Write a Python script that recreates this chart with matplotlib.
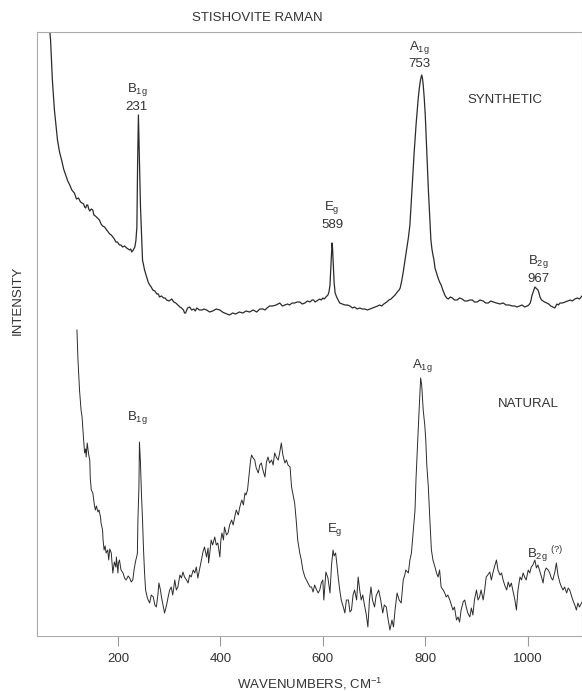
import numpy as np
import matplotlib
matplotlib.use("Agg")
import matplotlib.pyplot as plt

plt.rcParams['font.family'] = ['Liberation Sans', 'DejaVu Sans']
plt.rcParams['mathtext.default'] = 'regular'

# synthetic stishovite: (wavenumber cm-1, relative intensity)
synthetic = np.array([
    [65, 616], [68.5, 596], [72, 556], [76, 526], [82, 496], [86, 484], [90, 476],
    [94, 467], [98, 461], [102, 455], [106, 451], [110, 446], [115, 443], [119, 437],
    [123, 438], [127, 434], [130, 433], [133, 432], [135, 429], [137, 428], [139, 431],
    [141, 431], [143, 427], [145, 425], [148, 427], [151, 426], [153, 421], [156, 420],
    [160, 418], [164, 416], [167, 412], [170, 410], [174, 409], [178, 406], [181, 404],
    [184, 402], [187, 401], [190, 399], [193, 397], [196, 394], [199, 394], [203, 391],
    [206, 391], [209, 389], [213, 390], [217, 388], [220, 387], [223, 386], [225, 387],
    [227, 384], [230, 386], [233, 389], [235, 395], [237, 409], [238.5, 476], [240, 521],
    [242, 476], [244, 430], [246, 403], [248, 376], [252, 366], [256, 359], [259, 354],
    [262, 351], [265, 349], [268, 346], [272, 345], [276, 342], [279, 342], [281, 339],
    [285, 340], [289, 338], [292, 338], [295, 336], [300, 335], [305, 337], [309, 334],
    [313, 333], [317, 331], [321, 329], [324, 328], [328, 326], [330, 323], [332, 323],
    [336, 328], [340, 329], [344, 326], [348, 327], [351, 325], [354, 328], [359, 326],
    [364, 326], [368, 327], [373, 326], [379, 324], [385, 325], [392, 327], [399, 326],
    [404, 324], [408, 323], [413, 322], [418, 321], [424, 323], [430, 322], [437, 324],
    [444, 323], [450, 325], [457, 324], [464, 326], [471, 324], [477, 327], [483, 327],
    [487, 326], [491, 328], [496, 330], [502, 330], [509, 331], [516, 333], [521, 330],
    [526, 331], [531, 332], [535, 331], [540, 333], [545, 333], [550, 334], [555, 334],
    [560, 332], [565, 333], [570, 335], [575, 334], [579, 336], [582, 336], [585, 334],
    [588, 335], [591, 336], [594, 337], [597, 336], [600, 338], [603, 337], [606, 339],
    [608, 340], [610, 341], [612, 344], [614, 351], [615, 362], [616, 374], [617, 386],
    [618, 393], [619, 388], [620, 376], [621, 364], [622, 354], [624, 343], [627, 339],
    [630, 336], [633, 333], [638, 332], [643, 331], [648, 331], [653, 330], [658, 328],
    [662, 329], [667, 327], [672, 328], [677, 327], [682, 327], [687, 326], [692, 327],
    [697, 328], [702, 329], [707, 330], [711, 331], [715, 330], [719, 332], [722, 333],
    [725, 334], [729, 336], [733, 337], [737, 339], [741, 341], [744, 343], [747, 345],
    [749, 346], [751, 348], [754, 355], [757, 364], [759, 371], [761, 378], [764, 388],
    [767, 398], [770, 411], [772, 428], [774, 446], [776, 463], [778, 481], [780, 496],
    [782, 511], [784, 524], [786, 536], [788, 546], [790, 554], [791.5, 558], [793, 561],
    [794.5, 558], [796, 551], [798, 538], [800, 521], [802, 496], [804, 471], [806, 447],
    [808, 426], [810, 406], [811, 396], [813, 387], [815, 381], [817, 376], [819, 368],
    [822, 363], [825, 358], [828, 354], [831, 351], [835, 345], [839, 340], [842, 338],
    [845, 337], [849, 339], [853, 338], [857, 336], [862, 336], [867, 338], [872, 337],
    [877, 335], [882, 335], [887, 336], [892, 336], [896, 334], [901, 334], [907, 336],
    [913, 335], [918, 333], [923, 333], [928, 335], [933, 334], [939, 333], [946, 332],
    [952, 333], [958, 331], [964, 331], [970, 330], [975, 330], [979, 329], [984, 330],
    [989, 331], [994, 329], [999, 330], [1002, 331], [1005, 333], [1007, 337], [1008, 340],
    [1010, 343], [1012, 346], [1014, 349], [1016, 348], [1018, 347], [1020, 346],
    [1022, 343], [1024, 339], [1027, 336], [1030, 335], [1033, 334], [1037, 333],
    [1041, 332], [1045, 330], [1049, 329], [1053, 328], [1055, 330], [1057, 332],
    [1060, 331], [1063, 333], [1068, 333], [1073, 334], [1078, 335], [1083, 336],
    [1087, 335], [1092, 337], [1097, 338], [1101, 337], [1106, 340]])

# natural stishovite
nat_x = [120, 122, 125, 128, 130, 133, 135, 137, 138, 140, 141, 143, 145, 146, 148, 151,
         154, 156, 158, 161, 163, 166, 167, 170, 171, 173, 175, 177, 180, 182, 184, 187,
         189, 190, 193, 196, 197, 200, 201, 203, 206, 210, 213, 216, 220, 223, 226, 229,
         232, 235, 237, 238, 239, 241, 242, 243, 244, 246, 248, 250, 252, 254, 257, 259,
         262, 265, 269, 272, 275, 278, 280, 283, 285, 288, 291, 295, 298, 301, 304, 307,
         311, 314, 317, 321, 324, 327, 330, 334, 337, 340, 343, 347, 350, 353, 356, 360,
         363, 366, 369, 373, 376, 377, 380, 382, 385, 389, 392, 395, 399, 401, 403, 406,
         408, 412, 415, 418, 422, 425, 428, 431, 435, 438, 440, 442, 445, 448, 450, 453,
         455, 457, 459, 461, 464, 467, 470, 474, 477, 480, 483, 487, 490, 493, 496, 500,
         503, 506, 510, 513, 516, 519, 522, 526, 529, 532, 536, 539, 542, 545, 548, 551,
         555, 558, 561, 565, 568, 571, 575, 578, 581, 584, 588, 591, 594, 597, 600, 602,
         606, 610, 614, 617, 620, 622, 625, 627, 630, 633, 636, 640, 643, 646, 650, 653,
         656, 659, 662, 666, 669, 672, 675, 678, 682, 685, 688, 691, 694, 697, 701, 704,
         709, 713, 717, 720, 724, 727, 731, 735, 738, 741, 745, 749, 753, 757, 760, 762,
         767, 770, 773, 776, 780, 782, 785, 788, 791, 793, 796, 799, 801, 803, 806, 809,
         812, 815, 819, 822, 825, 828, 831, 835, 838, 841, 844, 848, 851, 854, 857, 861,
         864, 867, 870, 874, 877, 880, 883, 887, 890, 893, 896, 900, 903, 906, 909, 913,
         916, 919, 922, 926, 929, 932, 935, 939, 942, 946, 949, 952, 955, 959, 962, 965,
         968, 972, 975, 978, 981, 985, 988, 991, 994, 997, 1001, 1004, 1007, 1010, 1014,
         1017, 1020, 1023, 1027, 1030, 1033, 1036, 1040, 1043, 1046, 1049, 1053, 1056,
         1059, 1063, 1066, 1069, 1072, 1076, 1079, 1082, 1085, 1088, 1092, 1095, 1098,
         1101, 1106]
nat_y = [306, 276, 246, 226, 219, 196, 183, 187, 179, 193, 189, 181, 176, 158, 146, 143,
         131, 126, 130, 124, 126, 119, 113, 106, 96, 86, 90, 83, 86, 76, 87, 83,
         70, 63, 74, 69, 79, 63, 73, 76, 66, 63, 58, 56, 60, 58, 54, 56,
         68, 76, 80, 83, 116, 149, 194, 184, 173, 141, 116, 86, 63, 46, 39, 36,
         33, 41, 39, 31, 29, 41, 53, 46, 39, 31, 23, 31, 39, 46, 49, 41,
         56, 46, 49, 61, 58, 64, 59, 56, 53, 61, 59, 66, 63, 69, 58, 68,
         76, 84, 89, 79, 88, 73, 86, 96, 91, 99, 91, 93, 79, 96, 103, 96,
         109, 101, 103, 111, 116, 111, 119, 126, 121, 129, 133, 136, 131, 143, 141, 146,
         156, 166, 176, 181, 178, 176, 168, 163, 171, 173, 166, 159, 174, 179, 173, 176,
         171, 183, 178, 176, 184, 193, 181, 173, 176, 171, 169, 149, 141, 133, 116, 96,
         83, 76, 66, 59, 56, 53, 49, 49, 44, 51, 46, 43, 46, 53, 56, 36,
         64, 58, 43, 71, 86, 80, 83, 74, 59, 46, 36, 29, 23, 36, 36, 24,
         26, 41, 46, 36, 59, 46, 36, 41, 29, 21, 9, 36, 49, 36, 29, 40,
         46, 36, 23, 31, 29, 18, 6, 16, 9, 26, 43, 36, 33, 56, 61, 66,
         63, 76, 83, 101, 126, 158, 193, 226, 258, 251, 226, 211, 196, 171, 149, 116,
         86, 76, 69, 63, 59, 66, 49, 46, 43, 39, 41, 36, 31, 26, 29, 16,
         19, 14, 26, 34, 36, 29, 23, 19, 28, 21, 36, 46, 36, 39, 46, 36,
         46, 59, 61, 64, 56, 63, 69, 76, 66, 61, 63, 56, 51, 46, 54, 49,
         53, 43, 36, 26, 46, 59, 56, 63, 59, 56, 66, 63, 69, 71, 76,
         68, 71, 66, 59, 53, 64, 68, 66, 63, 58, 56, 64, 73,
         61, 53, 49, 46, 49, 43, 48, 46, 41, 36, 31, 26, 33,
         29, 34]

ticks = [200, 400, 600, 800, 1000]

fig = plt.figure(figsize=(5.82, 6.91), dpi=100)
ax = fig.add_axes([37/582, 55/691, 1 - 37/582, 604/691])
line_col = '#2b2b2b'
ax.plot(synthetic[:, 0], synthetic[:, 1], color=line_col, lw=0.9)
ax.plot(nat_x, nat_y, color=line_col, lw=0.7)
ax.set_xlim(42, 1106)
ax.set_ylim(0, 604)
ax.set_yticks([])
ax.set_xticks(ticks)
ax.tick_params(axis='x', direction='out', length=7, width=0.8, pad=5,
               colors='#999999', labelcolor='#333333', labelsize=9.5)
for s in ax.spines.values():
    s.set_color('#aaaaaa')
    s.set_linewidth(0.8)

txt = dict(ha='center', va='center', fontsize=9.5, color='#333333')
# synthetic labels
ax.text(237, 546, r'B$_{1g}$', **txt)
ax.text(237, 529, '231', **txt)
ax.text(788, 588, r'A$_{1g}$', **txt)
ax.text(788, 572, '753', **txt)
ax.text(956, 536, 'SYNTHETIC', **txt)
ax.text(618, 428, r'E$_{g}$', **txt)
ax.text(618, 411, '589', **txt)
ax.text(1020, 374, r'B$_{2g}$', **txt)
ax.text(1020, 357, '967', **txt)
# natural labels
ax.text(795, 271, r'A$_{1g}$', **txt)
ax.text(1001, 232, 'NATURAL', **txt)
ax.text(237, 218, r'B$_{1g}$', **txt)
ax.text(624, 106, r'E$_{g}$', **txt)
ax.text(1034, 81, r'B$_{2g}$ $^{(?)}$', **txt)

fig.text(257/582, 1 - 18/691, 'STISHOVITE RAMAN', **txt)
fig.text(310/582, 1 - 684/691, r'WAVENUMBERS, CM$^{-1}$', **txt)
fig.text(18/582, 1 - 300/691, 'INTENSITY', rotation=90, **txt)

fig.savefig('out.png', dpi=100, facecolor='white')
